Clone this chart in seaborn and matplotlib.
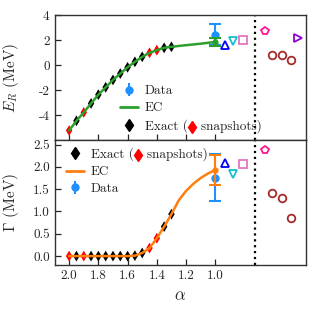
import numpy as np
import matplotlib
matplotlib.use("Agg")
import matplotlib.pyplot as plt
import seaborn as sns
from matplotlib.lines import Line2D
from matplotlib.text import Text

# -------------------------
# DATA
# -------------------------
alpha_exact = [2.0, 1.95, 1.9, 1.85, 1.8, 1.75, 1.7, 1.65, 1.6, 1.55, 1.5, 1.45, 1.4, 1.35, 1.3]
snap_alpha = [2.0, 1.9, 1.45, 1.4]
er_exact = [-5.24, -4.46, -3.79, -3.07, -2.37, -1.78, -1.19, -0.68, -0.18, 0.26, 0.66, 0.98, 1.19, 1.38, 1.46]
gam_exact = [0.0, 0.0, 0.0, 0.0, 0.0, 0.0, 0.0, 0.0, 0.0, 0.01, 0.07, 0.18, 0.40, 0.66, 0.94]

alpha_ec = alpha_exact + [1.25, 1.2, 1.15, 1.1, 1.05, 1.0]
er_ec = er_exact + [1.53, 1.59, 1.65, 1.71, 1.78, 1.85]
gam_ec = gam_exact + [1.25, 1.46, 1.62, 1.75, 1.85, 1.93]
er_ec_err = 0.33
gam_ec_err = 0.34

alpha_data = 1.0
er_data, er_data_err = 2.42, 0.83
gam_data, gam_data_err = 1.76, 0.52

# other results drawn to the right
oth_alpha = [0.935, 0.88, 0.81, 0.66, 0.432]
oth_er = [1.6, 1.9, 2.0, 2.7, 2.13]
oth_gam = [2.08, 1.85, 2.07, 2.38, np.nan]
oth_marker = ["^", "v", "s", "p", ">"]
oth_color = ["blue", "#17becf", "#e377c2", "#ff1493", "#9400d3"]
circ_alpha = [0.612, 0.541, 0.483]
circ_er = [0.82, 0.82, 0.39]
circ_gam = [1.41, 1.30, 0.85]

sep_alpha = 0.725

# -------------------------
# STYLE
# -------------------------
sns.set_style("ticks")
plt.rcParams["font.family"] = ["cmr10", "DejaVu Serif"]
plt.rcParams["mathtext.fontset"] = "cm"
plt.rcParams["axes.unicode_minus"] = False
plt.rcParams["font.size"] = 9.5
plt.rcParams["axes.linewidth"] = 1.0
plt.rcParams["axes.edgecolor"] = "#333333"

fig, (ax1, ax2) = plt.subplots(2, 1, figsize=(3.17, 3.14), dpi=100, sharex=True)
fig.subplots_adjust(left=0.172, right=0.965, top=0.952, bottom=0.156, hspace=0)

blue = "#1e90ff"
green = "#2ca02c"
orange = "#ff7f0e"
exact_color = ["red" if a in snap_alpha else "black" for a in alpha_exact]


def draw_panel(ax, y_exact, y_ec, ec_err, y_data, data_err, y_oth, y_circ, ec_color):
    ax.scatter(alpha_exact, y_exact, marker="d", s=30, c=exact_color, zorder=2, linewidths=0)
    sns.lineplot(x=alpha_ec, y=y_ec, ax=ax, color=ec_color, lw=1.8, zorder=3, sort=False)
    ax.errorbar([alpha_data], [y_data], yerr=[data_err], fmt="o", color=blue, ms=5,
                capsize=4, elinewidth=1.5, capthick=1.5, zorder=4)
    ax.errorbar([alpha_ec[-1]], [y_ec[-1]], yerr=[ec_err], fmt="o", color=ec_color, ms=3.5,
                capsize=4, elinewidth=1.5, capthick=1.5, zorder=5)
    for a, v, m, c in zip(oth_alpha, y_oth, oth_marker, oth_color):
        ax.plot(a, v, marker=m, ls="none", ms=5.5, mfc="none", mec=c, mew=1.3)
    ax.plot(circ_alpha, y_circ, "o", ms=5.5, mfc="none", mec="#a52a2a", mew=1.3)
    ax.axvline(sep_alpha, color="black", ls=":", lw=1.6)
    ax.tick_params(direction="in", length=4, width=0.9, labelsize=9.5)


draw_panel(ax1, er_exact, er_ec, er_ec_err, er_data, er_data_err, oth_er, circ_er, green)
draw_panel(ax2, gam_exact, gam_ec, gam_ec_err, gam_data, gam_data_err, oth_gam, circ_gam, orange)

ax1.set_xlim(2.1, 0.38)
ax1.set_ylim(-6, 4)
ax1.set_yticks([-4, -2, 0, 2, 4])
ax2.set_ylim(-0.2, 2.6)
ax2.set_yticks([0, 0.5, 1.0, 1.5, 2.0, 2.5])
ax2.set_xticks([2.0, 1.8, 1.6, 1.4, 1.2, 1.0])
ax2.set_xticklabels(["2.0", "1.8", "1.6", "1.4", "1.2", "1.0"])

ax1.set_ylabel(r"$E_R$ (MeV)", fontsize=11)
ax2.set_ylabel(r"$\Gamma$ (MeV)", fontsize=11)
ax2.set_xlabel(r"$\alpha$", fontsize=12)
ax1.yaxis.set_label_coords(-0.135, 0.5)
ax2.yaxis.set_label_coords(-0.135, 0.5)

# -------------------------
# LEGENDS
# -------------------------
exact_lbl = "Exact (   snapshots)"
h_exact = Line2D([], [], marker="d", color="black", ls="none", ms=6)
h_data = ax1.errorbar([], [], yerr=[], fmt="o", color=blue, ms=5, capsize=3, elinewidth=1.5)


def make_leg(ax, handles, labels, loc, anchor):
    return ax.legend(handles, labels, loc=loc, bbox_to_anchor=anchor, frameon=False,
                     fontsize=9.5, handlelength=1.4, handletextpad=0.5, labelspacing=0.35,
                     borderpad=0, borderaxespad=0)


leg1 = make_leg(ax1, [h_data, Line2D([], [], color=green, lw=2), h_exact],
                ["Data", "EC", exact_lbl], "lower left", (0.26, 0.06))
leg2 = make_leg(ax2, [h_exact, Line2D([], [], color=orange, lw=2), h_data],
                [exact_lbl, "EC", "Data"], "upper left", (0.045, 0.94))

# red diamond inside the "Exact ( ... snapshots)" label
fig.canvas.draw()
rend = fig.canvas.get_renderer()
for leg in (leg1, leg2):
    for t in leg.get_texts():
        if t.get_text().startswith("Exact"):
            bb = t.get_window_extent(rend)
            pre = Text(0, 0, "Exact (", fontproperties=t.get_fontproperties(), figure=fig)
            w = pre.get_window_extent(rend).width
            xd, yd = fig.transFigure.inverted().transform((bb.x0 + w + 4, (bb.y0 + bb.y1) / 2 - 1))
            fig.add_artist(Line2D([xd], [yd], marker="d", color="red", ms=6, ls="none",
                                  transform=fig.transFigure))

fig.savefig("out.png", dpi=100)
